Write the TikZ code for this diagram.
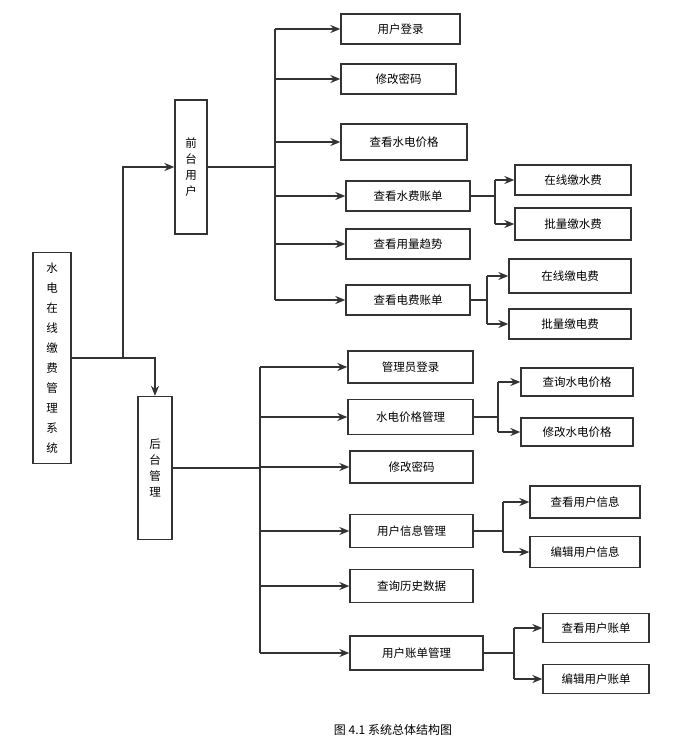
\documentclass[tikz,border=0pt]{standalone}
\usepackage{fontspec}
\setmainfont{Noto Sans CJK SC}
\usetikzlibrary{arrows.meta, positioning}
\definecolor{linegray}{RGB}{51,51,51}

\begin{document}
\begin{tikzpicture}[x=1pt, y=-1pt,
    box/.style={rectangle, draw=linegray, line width=1.3pt, minimum height=30pt, font=\fontsize{11.5}{13}\selectfont, inner sep=2pt},
    vbox/.style={rectangle, draw=linegray, line width=1.3pt, align=center, font=\fontsize{11.5}{20}\selectfont},
    arrow/.style={-{Stealth[length=10pt, width=8pt]}, line width=1.6pt, draw=linegray},
    link/.style={line width=1.6pt, draw=linegray}
]
\useasboundingbox (0,0) rectangle (672,744);

% Root and the two branches
\node[vbox, minimum width=38pt, minimum height=211pt] (root) at (52,358) {水\\电\\在\\线\\缴\\费\\管\\理\\系\\统};
\node[vbox, minimum width=32pt, minimum height=134pt, font=\fontsize{11.5}{16}\selectfont] (front) at (191,167) {前\\台\\用\\户};
\node[vbox, minimum width=34pt, minimum height=143pt, font=\fontsize{11.5}{16}\selectfont] (back) at (155,468) {后\\台\\管\\理};

% Front children
\node[box, minimum width=119pt] (login) at (400.5,29) {用户登录};
\node[box, minimum width=115pt] (pwd) at (398.5,79) {修改密码};
\node[box, minimum width=126pt, minimum height=36pt] (price) at (404,142) {查看水电价格};
\node[box, minimum width=124pt] (wbill) at (408,196) {查看水费账单};
\node[box, minimum width=124pt] (trend) at (408,244) {查看用量趋势};
\node[box, minimum width=124pt] (ebill) at (408,300) {查看电费账单};

\node[box, minimum width=116pt] (wpay) at (573,180) {在线缴水费};
\node[box, minimum width=116pt, minimum height=32pt] (wbatch) at (573,224) {批量缴水费};
\node[box, minimum width=122pt, minimum height=34pt] (epay) at (570,276) {在线缴电费};
\node[box, minimum width=122pt] (ebatch) at (570,324) {批量缴电费};

% Back children
\node[box, minimum width=125pt, minimum height=32pt] (admin) at (410.5,367) {管理员登录};
\node[box, minimum width=125pt, minimum height=35pt] (pmgr) at (410.5,417) {水电价格管理};
\node[box, minimum width=123pt, minimum height=32pt] (bpwd) at (411.5,467) {修改密码};
\node[box, minimum width=123pt, minimum height=33pt] (umgr) at (411.5,531) {用户信息管理};
\node[box, minimum width=123pt, minimum height=33pt] (hist) at (411.5,586) {查询历史数据};
\node[box, minimum width=133pt, minimum height=34pt] (bmgr) at (416.5,653) {用户账单管理};

\node[box, minimum width=112pt, minimum height=28pt] (qprice) at (577,382) {查询水电价格};
\node[box, minimum width=112pt, minimum height=28pt] (mprice) at (577,432) {修改水电价格};
\node[box, minimum width=110pt, minimum height=32pt] (uview) at (585,502) {查看用户信息};
\node[box, minimum width=110pt, minimum height=31pt] (uedit) at (585,552) {编辑用户信息};
\node[box, minimum width=106pt, minimum height=29pt] (bview) at (596,628) {查看用户账单};
\node[box, minimum width=106pt, minimum height=29pt] (bedit) at (596,679) {编辑用户账单};

% Trunk coordinates
\coordinate (rootj) at (123,358);
\coordinate (frontj) at (275,167);
\coordinate (backj) at (260,468);
\coordinate (wj) at (495,196);
\coordinate (ej) at (487,300);
\coordinate (pj) at (498,417);
\coordinate (uj) at (503,531);
\coordinate (bj) at (514,653);

% Root connectors
\draw[link] (root.east) -- (rootj);
\draw[arrow] (rootj) |- (front.west);
\draw[arrow] (rootj) -| (back.north);

% Front connectors
\draw[link] (front.east) -- (frontj);
\draw[link] (frontj |- login.west) -- (frontj |- ebill.west);
\foreach \n in {login, pwd, price, wbill, trend, ebill}
    \draw[arrow] (frontj |- \n.west) -- (\n.west);

\draw[link] (wbill.east) -- (wj);
\draw[link] (wj |- wpay.west) -- (wj |- wbatch.west);
\foreach \n in {wpay, wbatch}
    \draw[arrow] (wj |- \n.west) -- (\n.west);
\draw[link] (ebill.east) -- (ej);
\draw[link] (ej |- epay.west) -- (ej |- ebatch.west);
\foreach \n in {epay, ebatch}
    \draw[arrow] (ej |- \n.west) -- (\n.west);

% Back connectors
\draw[link] (back.east) -- (backj);
\draw[link] (backj |- admin.west) -- (backj |- bmgr.west);
\foreach \n in {admin, pmgr, bpwd, umgr, hist, bmgr}
    \draw[arrow] (backj |- \n.west) -- (\n.west);

\draw[link] (pmgr.east) -- (pj);
\draw[link] (pj |- qprice.west) -- (pj |- mprice.west);
\foreach \n in {qprice, mprice}
    \draw[arrow] (pj |- \n.west) -- (\n.west);
\draw[link] (umgr.east) -- (uj);
\draw[link] (uj |- uview.west) -- (uj |- uedit.west);
\foreach \n in {uview, uedit}
    \draw[arrow] (uj |- \n.west) -- (\n.west);
\draw[link] (bmgr.east) -- (bj);
\draw[link] (bj |- bview.west) -- (bj |- bedit.west);
\foreach \n in {bview, bedit}
    \draw[arrow] (bj |- \n.west) -- (\n.west);

% Caption
\node[font=\fontsize{12}{14}\selectfont] (caption) at (393,730) {图 4.1 系统总体结构图};
\end{tikzpicture}
\end{document}
